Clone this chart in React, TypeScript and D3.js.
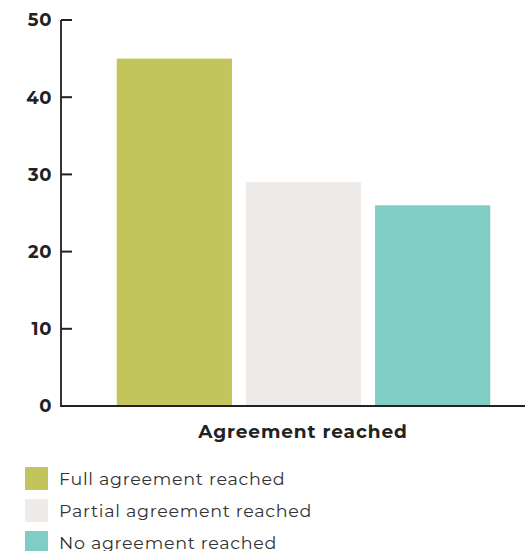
import React from "react";
import * as d3 from "d3";

const categories = ["Full agreement reached", "Partial agreement reached", "No agreement reached"];
const values = [45, 29, 26];
const colors = ["#c1c55c", "#eeebe8", "#80cdc6"];
const yTicks = [0, 10, 20, 30, 40, 50];
const xTitle = "Agreement reached";

export default function App() {
  const W = 525, H = 551;
  const axisX = 61;
  const y = d3.scaleLinear().domain([0, 50]).range([406, 20]);
  const x = d3.scaleBand<string>().domain(categories).range([109, 498]).paddingInner(0.108).paddingOuter(0.06);
  const font = "Montserrat, 'Open Sans', Lato, sans-serif";
  return (
    <svg width={W} height={H} style={{ position: "absolute", left: 0, top: 0 }} fontFamily={font}>
      {categories.map((c, i) => (
        <rect key={c} x={x(c)} y={y(values[i])} width={x.bandwidth()} height={y(0) - y(values[i])} fill={colors[i]} />
      ))}
      <line x1={axisX} x2={axisX} y1={y(50)} y2={y(0)} stroke="#333" strokeWidth={2} />
      <line x1={axisX - 1} x2={W} y1={y(0)} y2={y(0)} stroke="#222" strokeWidth={2} />
      {yTicks.map((t) => (
        <g key={t}>
          <line x1={axisX} x2={72} y1={y(t)} y2={y(t)} stroke="#222" strokeWidth={2} />
          <text x={52} y={y(t)} dy="0.35em" textAnchor="end" fontSize={18} fontWeight={700} letterSpacing={0.6} fill="#222">{t}</text>
        </g>
      ))}
      <text x={303} y={438} textAnchor="middle" fontSize={18.5} fontWeight={700} letterSpacing={0.9} fill="#222">{xTitle}</text>
      {categories.map((c, i) => (
        <g key={"lg" + c} transform={`translate(25, ${467 + i * 32})`}>
          <rect width={23} height={23} fill={colors[i]} />
          <text x={34} y={11.5} dy="0.36em" fontSize={17.5} letterSpacing={0.7} fill="#333">{c}</text>
        </g>
      ))}
    </svg>
  );
}
